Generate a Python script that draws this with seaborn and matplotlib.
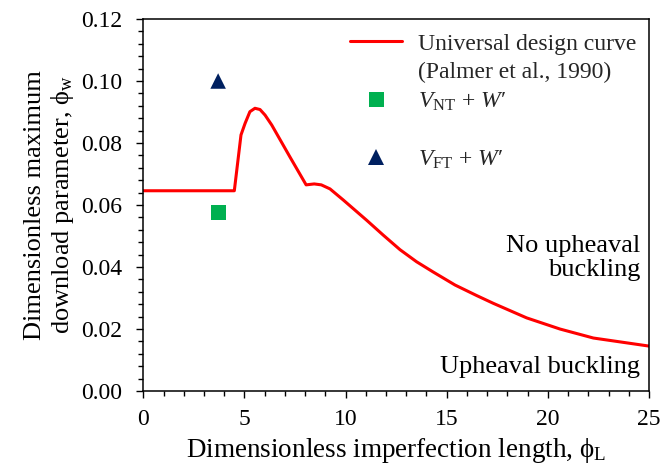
import matplotlib
matplotlib.use("Agg")
import matplotlib.pyplot as plt
from matplotlib.lines import Line2D
from matplotlib.ticker import MultipleLocator, FormatStrFormatter
import seaborn as sns
import pandas as pd

# Universal design curve (Palmer et al., 1990)
curve_phi_L = [0.0, 4.5, 4.83, 5.03, 5.27, 5.52, 5.77, 6.02, 6.35, 7.25, 8.05,
               8.45, 8.8, 9.23, 9.89, 11.04, 11.86, 12.69, 13.51, 14.33, 15.41,
               16.48, 17.3, 18.95, 20.6, 22.25, 25.0]
curve_phi_w = [0.0646, 0.0646, 0.0826, 0.0863, 0.0901, 0.0912, 0.0908, 0.0890,
               0.0858, 0.0755, 0.0665, 0.0668, 0.0665, 0.0652, 0.0616, 0.0551,
               0.0503, 0.0456, 0.0417, 0.0384, 0.0342, 0.0308, 0.0283, 0.0236,
               0.0200, 0.0171, 0.0145]

# Test points
nt_phi_L = [3.7]
nt_phi_w = [0.0575]
ft_phi_L = [3.7]
ft_phi_w = [0.100]

x_ticks = [0, 5, 10, 15, 20, 25]
y_ticks = [0.00, 0.02, 0.04, 0.06, 0.08, 0.10, 0.12]

sns.set_style("ticks")
plt.rcParams['font.family'] = ['Liberation Serif', 'DejaVu Serif']
plt.rcParams['mathtext.fontset'] = 'custom'
plt.rcParams['mathtext.rm'] = 'Liberation Serif'
plt.rcParams['mathtext.it'] = 'Liberation Serif:italic'
plt.rcParams['mathtext.bf'] = 'Liberation Serif:bold'

RED = '#FF0000'
GREEN = '#00B050'
NAVY = '#002060'

curve_df = pd.DataFrame({'phi_L': curve_phi_L, 'phi_w': curve_phi_w})
nt_df = pd.DataFrame({'phi_L': nt_phi_L, 'phi_w': nt_phi_w})
ft_df = pd.DataFrame({'phi_L': ft_phi_L, 'phi_w': ft_phi_w})

fig = plt.figure(figsize=(6.64, 4.70), dpi=100)
ax = fig.add_axes([0.2158, 0.168, 0.7616, 0.7916])

sns.lineplot(data=curve_df, x='phi_L', y='phi_w', sort=False, estimator=None,
             color=RED, linewidth=2.2, ax=ax)
sns.scatterplot(data=nt_df, x='phi_L', y='phi_w', marker='s', s=117,
                color=GREEN, edgecolor='none', linewidth=0, ax=ax, zorder=3)
sns.scatterplot(data=ft_df, x='phi_L', y='phi_w', marker='^', s=125,
                color=NAVY, edgecolor='none', linewidth=0, ax=ax, zorder=3)

ax.set_xlim(0, 25)
ax.set_ylim(0, 0.12)
ax.set_xticks(x_ticks)
ax.set_yticks(y_ticks)
ax.xaxis.set_minor_locator(MultipleLocator(1))
ax.yaxis.set_minor_locator(MultipleLocator(0.004))
ax.yaxis.set_major_formatter(FormatStrFormatter('%.2f'))

for sp in ax.spines.values():
    sp.set_visible(True)
    sp.set_color('black')
    sp.set_linewidth(1.1)

ax.tick_params(which='major', direction='out', length=5, width=1.0,
               color='black', labelsize=17, labelcolor='black')
ax.tick_params(which='minor', direction='out', length=3.5, width=1.0,
               color='black')
ax.tick_params(axis='y', which='major', pad=10)
ax.tick_params(axis='x', which='major', pad=8)

ax.set_xlabel('Dimensionless imperfection length, \u03d5$_\\mathregular{L}$',
              fontsize=19.5, color='black', labelpad=4)
ax.set_ylabel('Dimensionless maximum\ndownload parameter, \u03d5$_\\mathregular{w}$',
              fontsize=19, color='black', linespacing=1.15, labelpad=4)

ax.text(24.55, 0.043, 'No upheaval\nbuckling', ha='right', va='center',
        fontsize=19, linespacing=1.1, color='black')
ax.text(24.55, 0.0078, 'Upheaval buckling', ha='right', va='center',
        fontsize=19, color='black')

blank = Line2D([], [], linestyle='none')
handles = [
    Line2D([0], [0], color=RED, linewidth=2.2),
    blank,
    Line2D([0], [0], marker='s', linestyle='none', color=GREEN,
           markersize=10.8, markeredgewidth=0),
    blank,
    Line2D([0], [0], marker='^', linestyle='none', color=NAVY,
           markersize=11, markeredgewidth=0),
]
labels = [
    'Universal design curve',
    '(Palmer et al., 1990)',
    '$V$$_\\mathregular{NT}$ + $W$\u2032',
    ' ',
    '$V$$_\\mathregular{FT}$ + $W$\u2032',
]
leg = ax.legend(handles, labels, loc='upper left', bbox_to_anchor=(0.409, 0.962),
                frameon=False, fontsize=17, handlelength=2.2, handletextpad=0.68,
                labelspacing=0.3, borderpad=0, borderaxespad=0)

fig.savefig('out.png', dpi=100)
